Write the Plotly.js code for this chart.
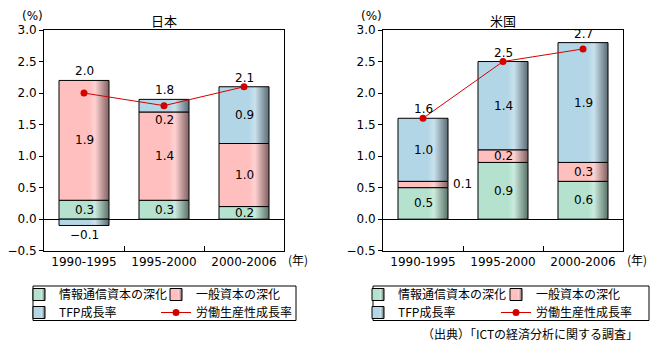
<!DOCTYPE html>
<html><head><meta charset="utf-8">
<script src="https://cdn.plot.ly/plotly-3.0.1.min.js"></script>
<style>body{margin:0;background:#fff}#chart{width:656px;height:352px}</style>
</head><body><div id="chart"></div>
<script>
// ---- data ----
const periods = ['1990-1995', '1995-2000', '2000-2006'];
const jpIct = [0.3, 0.3, 0.2];
const jpGeneral = [1.9, 1.4, 1.0];
const jpTfp = [-0.1, 0.2, 0.9];
const jpLabor = [2.0, 1.8, 2.1];
const usIct = [0.5, 0.9, 0.6];
const usGeneral = [0.1, 0.2, 0.3];
const usTfp = [1.0, 1.4, 1.9];
const usLabor = [1.6, 2.5, 2.7];
const seriesNames = ['情報通信資本の深化', '一般資本の深化', 'TFP成長率', '労働生産性成長率'];
const panelTitles = ['日本', '米国'];

// ---- styling ----
const W = 656, H = 352;
const X = px => px / W;
const Y = py => 1 - py / H;
const colors = {ict: '#b4e2cf', general: '#ffbfbf', tfp: '#b3d6e6', line: '#d40000'};
const FONT = 'DejaVu Sans, "Noto Sans CJK JP", sans-serif';
const JFONT = '"Noto Sans CJK JP", sans-serif';

const panels = [
  {ict: jpIct, gen: jpGeneral, tfp: jpTfp, labor: jpLabor, xa: 'x', ya: 'y', title: panelTitles[0],
   dom: [X(44), X(284)], legends: ['legend', 'legend2', 'legend3', 'legend4'], lx: [19, 156], box: [33, 296]},
  {ict: usIct, gen: usGeneral, tfp: usTfp, labor: usLabor, xa: 'x2', ya: 'y2', title: panelTitles[1],
   dom: [X(383), X(623)], legends: ['legend5', 'legend6', 'legend7', 'legend8'], lx: [358, 496], box: [373, 649]}
];
const yDom = [Y(250.7), Y(30)];

const traces = [];
const annotations = [];
const shapes = [];
const layout = {
  width: W, height: H,
  margin: {l: 0, r: 0, t: 0, b: 0},
  paper_bgcolor: '#fff', plot_bgcolor: '#fff',
  font: {family: FONT, size: 12, color: '#000'},
  barmode: 'relative', bargap: 0.375,
  showlegend: true,
  annotations: annotations, shapes: shapes
};

panels.forEach((p, k) => {
  const segs = [
    {vals: p.ict, name: seriesNames[0], color: colors.ict, leg: p.legends[0]},
    {vals: p.gen, name: seriesNames[1], color: colors.general, leg: p.legends[1]},
    {vals: p.tfp, name: seriesNames[2], color: colors.tfp, leg: p.legends[2]}
  ];
  segs.forEach(s => {
    traces.push({
      type: 'bar', x: periods, y: s.vals, name: s.name, xaxis: p.xa, yaxis: p.ya,
      marker: {color: s.color, line: {color: '#000', width: 1}},
      hoverinfo: 'skip', legend: s.leg, showlegend: true
    });
  });
  traces.push({
    type: 'scatter', mode: 'lines+markers', x: periods, y: p.labor, name: seriesNames[3],
    xaxis: p.xa, yaxis: p.ya, line: {color: colors.line, width: 1},
    marker: {color: colors.line, size: 7}, legend: p.legends[3], showlegend: true, hoverinfo: 'skip'
  });

  // segment labels
  periods.forEach((cat, i) => {
    let pos = 0, neg = 0;
    segs.forEach(s => {
      const v = s.vals[i];
      let y0, y1;
      if (v >= 0) { y0 = pos; y1 = pos + v; pos = y1; } else { y1 = neg; y0 = neg + v; neg = y0; }
      const txt = (v < 0 ? '−' : '') + Math.abs(v).toFixed(1);
      const a = {xref: p.xa, yref: p.ya, x: cat, y: (y0 + y1) / 2, text: txt, showarrow: false,
                 font: {size: 12}, xanchor: 'center', yanchor: 'middle'};
      const lab = p.labor[i];
      if (v < 0 && Math.abs(v) < 0.15) { a.y = y0; a.yshift = -10; }
      else if (v > 0 && v < 0.15) { a.xanchor = 'left'; a.xshift = 28; }
      else if (v > 0 && v < 0.3 && lab > y0 && lab < y1) { a.y = y0; a.yshift = -8; }
      annotations.push(a);
    });
    annotations.push({xref: p.xa, yref: p.ya, x: cat, y: Math.max(pos, p.labor[i]),
      text: p.labor[i].toFixed(1), showarrow: false, font: {size: 12}, yanchor: 'middle', yshift: 9});
  });

  const xk = k === 0 ? 'xaxis' : 'xaxis2';
  const yk = k === 0 ? 'yaxis' : 'yaxis2';
  layout[xk] = {domain: p.dom, anchor: p.ya, type: 'category', tickson: 'boundaries',
    ticks: 'inside', ticklen: 5, tickcolor: '#000', showline: true, linecolor: '#000', linewidth: 1,
    mirror: true, showgrid: false, zeroline: false, tickfont: {size: 12}, fixedrange: true};
  layout[yk] = {domain: yDom, anchor: p.xa, range: [-0.5, 3.0], dtick: 0.5, tick0: 0, tickformat: '.1f',
    ticks: 'outside', ticklen: 4, tickcolor: '#000', showline: true, linecolor: '#000', linewidth: 1,
    mirror: true, showgrid: false, zeroline: true, zerolinecolor: '#000', zerolinewidth: 1,
    tickfont: {size: 12}, fixedrange: true};

  const cx = (p.dom[0] + p.dom[1]) / 2;
  annotations.push({xref: 'paper', yref: 'paper', x: cx, y: Y(20.5), text: p.title, showarrow: false,
    font: {size: 13, family: JFONT}, xanchor: 'center', yanchor: 'middle'});
  annotations.push({xref: 'paper', yref: 'paper', x: p.dom[0] - X(12), y: Y(15.5), text: '(%)', showarrow: false,
    font: {size: 12}, xanchor: 'center', yanchor: 'middle'});
  annotations.push({xref: 'paper', yref: 'paper', x: p.dom[1] + X(2), y: Y(259), text: '(年)', showarrow: false,
    font: {size: 12, family: JFONT}, xanchor: 'left', yanchor: 'middle'});

  // legends: 2x2 grid
  const lpos = [[p.lx[0], 294.5], [p.lx[1], 294.5], [p.lx[0], 312.5], [p.lx[1], 312.5]];
  p.legends.forEach((lg, j) => {
    layout[lg] = {x: X(lpos[j][0]), y: Y(lpos[j][1]), xanchor: 'left', yanchor: 'middle',
      bgcolor: 'rgba(0,0,0,0)', borderwidth: 0, font: {size: 12, family: JFONT}, traceorder: 'normal',
      itemclick: false, itemdoubleclick: false};
  });
  shapes.push({type: 'rect', xref: 'paper', yref: 'paper', x0: X(p.box[0]), x1: X(p.box[1]),
    y0: Y(320.5), y1: Y(286), line: {color: '#000', width: 1}, fillcolor: 'rgba(0,0,0,0)'});
});

annotations.push({xref: 'paper', yref: 'paper', x: X(640), y: Y(333), text: '（出典）「ICTの経済分析に関する調査」',
  showarrow: false, font: {size: 12, family: JFONT}, xanchor: 'right', yanchor: 'middle'});

Plotly.newPlot('chart', traces, layout, {staticPlot: true, displayModeBar: false}).then(gd => {
  // add right-edge shading gradient to bars and legend swatches
  const svg = gd.querySelector('svg.main-svg');
  const ns = 'http://www.w3.org/2000/svg';
  let defs = svg.querySelector('defs');
  if (!defs) { defs = document.createElementNS(ns, 'defs'); svg.insertBefore(defs, svg.firstChild); }
  const hexToRgb = h => [1, 3, 5].map(i => parseInt(h.slice(i, i + 2), 16));
  const map = {};
  [colors.ict, colors.general, colors.tfp].forEach((c, idx) => {
    const rgb = hexToRgb(c);
    const light = rgb.map(v => Math.round(v + (255 - v) * 0.3));
    const dark = rgb.map(v => Math.round(v * 0.5));
    const id = 'barshade' + idx;
    const g = document.createElementNS(ns, 'linearGradient');
    g.setAttribute('id', id); g.setAttribute('x1', '0'); g.setAttribute('x2', '1');
    g.setAttribute('y1', '0'); g.setAttribute('y2', '0');
    [[0, rgb], [0.6, rgb], [0.72, light], [1, dark]].forEach(([o, col]) => {
      const st = document.createElementNS(ns, 'stop');
      st.setAttribute('offset', o); st.setAttribute('stop-color', 'rgb(' + col.join(',') + ')');
      g.appendChild(st);
    });
    defs.appendChild(g);
    map['rgb(' + rgb.join(',') + ')'] = id;
  });
  gd.querySelectorAll('.barlayer .point path, .legendpoints path').forEach(el => {
    const f = (el.style.fill || '').replace(/\s/g, '');
    if (map[f]) el.style.fill = 'url(#' + map[f] + ')';
  });
});
</script>
</body></html>
